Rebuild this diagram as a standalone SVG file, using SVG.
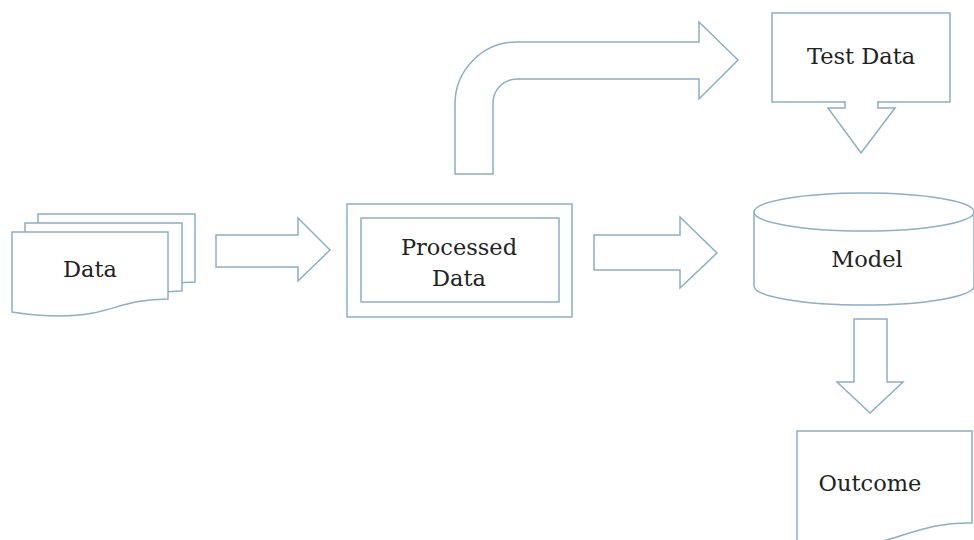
<svg xmlns="http://www.w3.org/2000/svg" width="974" height="540" viewBox="0 0 974 540">
<style>
.s{fill:#ffffff;stroke:#8aafc6;stroke-width:1.5;stroke-linejoin:miter}
.t{font-family:"DejaVu Serif","Liberation Serif",serif;font-size:22.5px;fill:#222222;text-anchor:middle}
</style>
<rect width="974" height="540" fill="#ffffff"/>
<g id="data">
<path class="s" d="M38,214 H195 V282 C147,282 137,299 87,299 C62,299 46,296 38,295 Z"/>
<path class="s" d="M25,223 H182 V291 C134,291 124,308 74,308 C49,308 33,305 25,304 Z"/>
<path class="s" d="M12,232 H168 V299 C120,299 110,316 60,316 C35,316 20,313 12,312 Z"/>
<text class="t" x="90" y="277">Data</text>
</g>
<g id="processed">
<rect class="s" x="347" y="204" width="225" height="113"/>
<rect class="s" x="361" y="218" width="198" height="84"/>
<text class="t" x="459" y="255">Processed</text>
<text class="t" x="459" y="286">Data</text>
</g>
<g id="testdata">
<rect class="s" x="772" y="13" width="178" height="89"/>
<text class="t" x="861" y="64">Test Data</text>
</g>
<g id="model">
<path class="s" d="M754,212 V286 A110,19 0 0 0 974,286 V212"/>
<ellipse class="s" cx="864" cy="212" rx="110" ry="19"/>
<text class="t" x="867" y="267">Model</text>
</g>
<g id="outcome">
<path class="s" d="M797,431 H972 V523 C940,522 920,530 890,539 C860,548 820,548 797,546 Z"/>
<text class="t" x="870" y="491">Outcome</text>
</g>
<g id="connectors">
<path class="s" d="M216,235 H298 V218 L330,250 L298,281 V267 H216 Z"/>
<path class="s" d="M594,235 H680 V217 L717,253 L680,288 V270 H594 Z"/>
<path class="s" d="M455,174 V104 A62,62 0 0 1 517,42 H699 V22 L738,60 L699,99 V79 H517 A24,24 0 0 0 493,103 V174 Z"/>
<path class="s" d="M845,101 V108 H828 L861,153 L895,108 H878 V101"/>
<path class="s" d="M854,319 V382 H837 L870,413 L903,382 H887 V319 Z"/>
</g>
</svg>
